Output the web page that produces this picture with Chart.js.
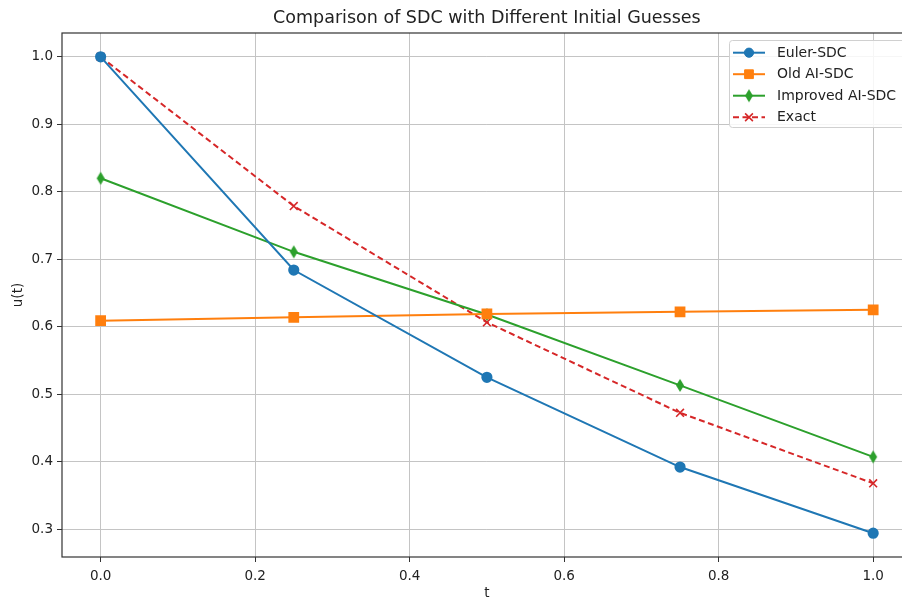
<!DOCTYPE html>
<html>
<head>
<meta charset="utf-8">
<script src="https://cdn.jsdelivr.net/npm/chart.js@4.4.1/dist/chart.umd.min.js"></script>
<style>
  html, body { margin: 0; padding: 0; background: #fff; overflow: hidden; }
  #wrap { width: 902px; height: 598px; overflow: hidden; }
</style>
</head>
<body>
<div id="wrap"><canvas id="sdcChart" width="920" height="598"></canvas></div>
<script>
// time nodes and solutions
const tNodes = [0, 0.25, 0.5, 0.75, 1.0];
const eulerSdc = [1.0, 0.684, 0.525, 0.392, 0.294];
const oldAiSdc = [0.609, 0.614, 0.619, 0.622, 0.625];
const improvedAiSdc = [0.820, 0.711, 0.618, 0.513, 0.407];
const exact = [1.0, 0.7788, 0.6065, 0.4724, 0.3679];

const xTicks = [0.0, 0.2, 0.4, 0.6, 0.8, 1.0];
const yTicks = [0.3, 0.4, 0.5, 0.6, 0.7, 0.8, 0.9, 1.0];

const FONT = "'DejaVu Sans', sans-serif";

// thin diamond marker (like matplotlib 'd')
function thinDiamond(color, w, h) {
  const c = document.createElement("canvas");
  c.width = w + 2; c.height = h + 2;
  const g = c.getContext("2d");
  g.fillStyle = color;
  g.beginPath();
  g.moveTo(c.width / 2, 1);
  g.lineTo(c.width - 1, c.height / 2);
  g.lineTo(c.width / 2, c.height - 1);
  g.lineTo(1, c.height / 2);
  g.closePath();
  g.fill();
  return c;
}

const pts = (ys) => tNodes.map((t, i) => ({ x: t, y: ys[i] }));

const datasets = [
  {
    label: "Euler-SDC", data: pts(eulerSdc),
    borderColor: "#1f77b4", backgroundColor: "#1f77b4",
    pointStyle: "circle", pointRadius: 4.6, borderWidth: 2
  },
  {
    label: "Old AI-SDC", data: pts(oldAiSdc),
    borderColor: "#ff7f0e", backgroundColor: "#ff7f0e",
    pointStyle: "rect", pointRadius: 6.2, borderWidth: 2
  },
  {
    label: "Improved AI-SDC", data: pts(improvedAiSdc),
    borderColor: "#2ca02c", backgroundColor: "#2ca02c",
    pointStyle: thinDiamond("#2ca02c", 8, 13), pointRadius: 6, borderWidth: 2
  },
  {
    label: "Exact", data: pts(exact),
    borderColor: "#d62728", backgroundColor: "#d62728",
    pointStyle: "crossRot", pointRadius: 5.5, borderWidth: 2,
    borderDash: [6, 3.5], pointBorderWidth: 1.6
  }
];

// axes frame round the plot area
const framePlugin = {
  id: "frame",
  afterDraw(chart) {
    const { ctx, chartArea: a } = chart;
    ctx.save();
    ctx.strokeStyle = "#333";
    ctx.lineWidth = 1.2;
    ctx.strokeRect(a.left, a.top, a.right - a.left, a.bottom - a.top);
    ctx.restore();
  }
};

// boxed legend in the upper right, line sample with marker
const legendPlugin = {
  id: "boxLegend",
  afterDraw(chart) {
    const { ctx } = chart;
    const x0 = 729, y0 = 40, rowH = 21.5;
    ctx.save();
    ctx.fillStyle = "rgba(255,255,255,0.85)";
    ctx.strokeStyle = "#d0d0d0";
    ctx.lineWidth = 1;
    ctx.beginPath();
    ctx.roundRect(x0 + 0.5, y0 + 0.5, 176, 87, 3);
    ctx.fill();
    ctx.stroke();
    chart.data.datasets.forEach((ds, i) => {
      const y = y0 + 12.7 + i * rowH;
      ctx.strokeStyle = ds.borderColor;
      ctx.lineWidth = 2;
      ctx.setLineDash(ds.borderDash || []);
      ctx.beginPath();
      ctx.moveTo(x0 + 4, y);
      ctx.lineTo(x0 + 36, y);
      ctx.stroke();
      ctx.setLineDash([]);
      ctx.fillStyle = ds.backgroundColor;
      ctx.lineWidth = ds.pointBorderWidth || 1;
      Chart.helpers.drawPoint(ctx, {
        pointStyle: ds.pointStyle, radius: ds.pointRadius,
        borderWidth: ds.pointBorderWidth || 1, rotation: 0
      }, x0 + 20, y);
      ctx.fillStyle = "#222";
      ctx.font = "14px " + FONT;
      ctx.textBaseline = "middle";
      ctx.textAlign = "left";
      ctx.fillText(ds.label, x0 + 48, y + 0.5);
    });
    ctx.restore();
  }
};

new Chart(document.getElementById("sdcChart"), {
  type: "line",
  data: { datasets },
  plugins: [framePlugin, legendPlugin],
  options: {
    responsive: false,
    devicePixelRatio: 1,
    animation: false,
    layout: { padding: 0 },
    plugins: {
      legend: { display: false },
      tooltip: { enabled: false },
      title: {
        display: true,
        fullSize: false,
        text: "Comparison of SDC with Different Initial Guesses",
        color: "#222",
        font: { family: FONT, size: 17.5, weight: "normal" },
        padding: { top: 8, bottom: 4 }
      }
    },
    elements: { line: { tension: 0 } },
    scales: {
      x: {
        type: "linear",
        min: -0.05, max: 1.05,
        afterBuildTicks: (s) => { s.ticks = xTicks.map((v) => ({ value: v })); },
        afterFit: (s) => { s.height = 41; s.paddingLeft = 0; s.paddingRight = 0; },
        border: { display: false },
        grid: { color: "#c4c4c4", lineWidth: 1, tickColor: "#333", tickLength: 5 },
        ticks: {
          color: "#222", padding: 6, maxRotation: 0,
          font: { family: FONT, size: 13.5 },
          callback: (v) => v.toFixed(1)
        },
        title: {
          display: true, text: "t", color: "#222",
          font: { family: FONT, size: 13.5 },
          padding: { top: 0, bottom: -4 }
        }
      },
      y: {
        min: 0.2587, max: 1.0353,
        afterBuildTicks: (s) => { s.ticks = yTicks.map((v) => ({ value: v })); },
        afterFit: (s) => { s.width = 62; s.paddingTop = 0; s.paddingBottom = 0; },
        border: { display: false },
        grid: { color: "#c4c4c4", lineWidth: 1, tickColor: "#333", tickLength: 5 },
        ticks: {
          color: "#222", padding: 4,
          font: { family: FONT, size: 13.5 },
          callback: (v) => v.toFixed(1)
        },
        title: {
          display: true, text: "u(t)", color: "#222",
          font: { family: FONT, size: 13.5 },
          padding: { top: 10, bottom: 0 }
        }
      }
    }
  }
});
</script>
</body>
</html>
